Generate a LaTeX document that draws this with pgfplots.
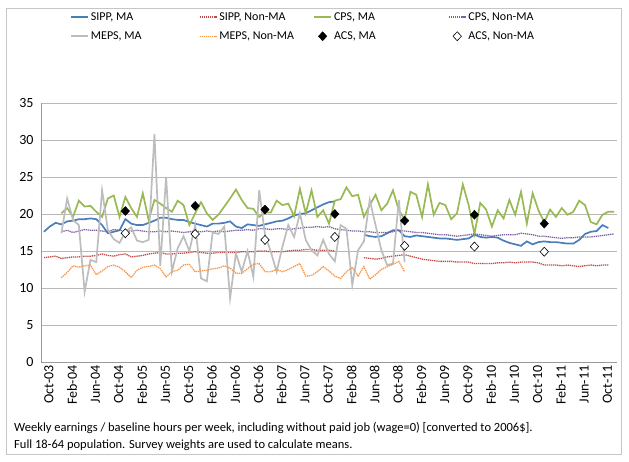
\documentclass[border=0pt]{standalone}
\usepackage{pgfplots}
\pgfplotsset{compat=1.18}
\usepackage{pgfplotstable}
\usepackage{fontspec}
\setmainfont{Carlito}
\definecolor{cBlue}{HTML}{4A7EBB}
\definecolor{cRed}{HTML}{BE4B48}
\definecolor{cGreen}{HTML}{98B954}
\definecolor{cPurple}{HTML}{7D60A0}
\definecolor{cGray}{HTML}{BDBDBD}
\definecolor{cOrange}{HTML}{F79646}
\definecolor{cAxis}{HTML}{9A9A9A}

\pgfplotstableread{
i sma snon cma cnon mma mnon
0 17.6 14.1 nan nan nan nan
1 18.3 14.2 nan nan nan nan
2 18.8 14.3 nan nan nan nan
3 18.6 14.0 20.1 17.6 17.4 11.4
4 19.0 14.1 20.8 17.8 22.1 12.1
5 19.1 14.2 19.6 17.5 19.2 13.0
6 19.3 14.2 21.8 17.7 18.5 12.8
7 19.3 14.3 21.0 17.9 9.5 13.0
8 19.4 14.3 21.1 17.8 13.8 13.1
9 19.3 14.4 20.3 17.8 13.5 11.8
10 18.5 14.6 19.6 17.7 23.2 12.3
11 17.4 14.4 22.1 17.6 17.8 12.9
12 17.6 14.3 22.5 17.9 16.6 13.1
13 17.8 14.5 19.6 17.8 16.1 12.8
14 19.3 14.6 22.3 17.7 17.6 12.2
15 18.7 14.2 20.8 17.7 18.2 11.4
16 18.5 14.3 19.6 17.8 16.4 12.4
17 18.5 14.4 22.8 17.7 16.2 12.8
18 18.8 14.6 19.2 17.6 16.5 12.9
19 19.1 14.7 21.9 17.6 30.8 13.1
20 19.5 14.8 21.4 17.7 13.0 12.6
21 19.5 14.6 20.8 17.6 25.0 11.5
22 19.3 14.6 20.3 17.7 12.2 12.2
23 19.2 14.7 21.8 17.6 15.4 12.4
24 19.2 14.7 21.2 17.5 17.0 13.1
25 18.9 14.8 18.5 17.6 15.0 13.2
26 18.7 14.9 20.1 17.7 18.5 12.2
27 18.5 14.8 21.6 17.6 11.3 12.3
28 18.3 14.7 20.1 17.7 10.9 12.4
29 18.7 14.7 19.2 17.6 17.5 12.6
30 18.7 14.8 19.9 17.7 17.3 12.7
31 18.8 14.8 21.0 17.6 18.3 13.0
32 19.0 14.8 22.1 17.7 8.6 12.7
33 18.3 14.8 23.3 17.8 14.7 12.0
34 18.1 14.9 21.9 17.8 12.2 12.0
35 18.6 14.9 20.8 17.9 15.0 12.6
36 18.5 14.9 20.7 17.8 11.5 13.2
37 18.4 15.0 19.6 18.0 23.2 13.3
38 18.6 15.0 20.2 18.0 17.2 12.2
39 18.8 14.9 20.2 17.9 14.9 12.2
40 19.0 14.9 21.8 18.0 12.2 12.5
41 19.1 14.9 21.2 18.0 15.6 12.2
42 19.4 15.0 21.4 17.9 18.5 12.5
43 19.8 15.1 19.7 18.0 16.9 12.9
44 20.0 15.1 23.4 18.1 20.1 13.3
45 20.1 15.2 20.1 18.2 16.5 11.6
46 20.5 15.2 23.2 18.2 15.1 11.7
47 20.9 15.1 19.6 18.3 14.4 12.2
48 21.3 15.1 20.5 18.2 16.5 12.9
49 21.6 15.1 18.7 18.3 14.6 12.3
50 21.7 15.0 21.8 18.0 13.6 11.6
51 nan nan 22.0 17.9 18.5 11.3
52 nan nan 23.6 17.8 18.0 12.2
53 nan nan 22.4 17.7 10.4 12.8
54 nan nan 22.6 17.7 15.1 11.6
55 17.2 14.1 19.6 17.6 16.3 12.9
56 17.0 14.0 21.2 17.6 21.9 11.2
57 16.9 13.9 22.6 17.5 18.5 11.8
58 17.0 14.0 20.5 17.5 15.1 12.5
59 17.4 14.2 21.4 17.5 13.1 12.9
60 17.8 14.3 23.2 17.6 13.3 13.2
61 17.8 14.4 20.5 17.8 21.9 13.6
62 17.0 14.5 19.3 17.7 13.5 12.2
63 16.9 14.3 23.0 17.6 nan nan
64 17.1 14.1 22.6 17.5 nan nan
65 17.0 13.9 19.6 17.5 nan nan
66 16.9 13.8 24.0 17.4 nan nan
67 16.8 13.7 19.9 17.3 nan nan
68 16.7 13.6 21.5 17.2 nan nan
69 16.7 13.6 21.2 17.2 nan nan
70 16.6 13.6 19.3 17.1 nan nan
71 16.5 13.5 20.1 17.0 nan nan
72 16.6 13.5 24.0 17.1 nan nan
73 16.7 13.5 21.2 17.2 nan nan
74 17.2 13.3 17.3 17.3 nan nan
75 16.9 13.3 21.5 17.2 nan nan
76 16.8 13.3 20.6 17.1 nan nan
77 16.9 13.3 18.3 17.0 nan nan
78 16.8 13.4 20.5 17.1 nan nan
79 16.4 13.4 19.4 17.2 nan nan
80 16.1 13.5 21.9 17.2 nan nan
81 15.9 13.4 19.9 17.2 nan nan
82 15.7 13.5 23.0 17.4 nan nan
83 16.3 13.5 18.7 17.3 nan nan
84 15.9 13.5 22.8 17.2 nan nan
85 16.2 13.4 20.5 17.0 nan nan
86 16.3 13.1 18.9 17.0 nan nan
87 16.2 13.1 20.6 16.9 nan nan
88 16.2 13.1 19.6 16.8 nan nan
89 16.1 13.0 20.8 16.7 nan nan
90 16.0 13.1 19.9 16.8 nan nan
91 16.0 13.0 20.3 16.8 nan nan
92 16.5 12.9 21.8 16.9 nan nan
93 17.3 13.0 21.2 16.9 nan nan
94 17.6 13.1 18.9 16.9 nan nan
95 17.7 13.0 18.6 17.0 nan nan
96 18.5 13.1 19.9 17.1 nan nan
97 18.1 13.1 20.3 17.2 nan nan
98 nan nan 20.3 17.3 nan nan
}\datatable

\pgfplotstableread{
i ma non
14 20.4 17.4
26 21.1 17.3
38 20.6 16.5
50 20.0 16.9
62 19.1 15.7
74 19.9 15.6
86 18.7 14.9
}\acstable

\begin{document}
\begin{tikzpicture}
\path (0,0) rectangle (629pt,462pt);
\draw[color=gray!45, line width=0.8pt] (6.5pt,8pt) rectangle (621pt,454pt);
\begin{axis}[
  at={(41pt,100pt)}, anchor=south west,
  scale only axis, width=576pt, height=259pt,
  xmin=-0.5, xmax=98.5, ymin=0, ymax=35,
  ytick={0,5,...,35},
  xtick={0,4,...,96},
  xticklabels={Oct-03,Feb-04,Jun-04,Oct-04,Feb-05,Jun-05,Oct-05,Feb-06,Jun-06,Oct-06,Feb-07,Jun-07,Oct-07,Feb-08,Jun-08,Oct-08,Feb-09,Jun-09,Oct-09,Feb-10,Jun-10,Oct-10,Feb-11,Jun-11,Oct-11},
  x tick label style={rotate=90, anchor=east, yshift=-5pt, font=\fontsize{14}{16}\selectfont},
  y tick label style={xshift=-4pt, font=\fontsize{14}{16}\selectfont},
  /pgf/number format/assume math mode=true,
  ymajorgrids, grid style={color=cAxis!70, line width=0.7pt},
  axis x line*=bottom, axis y line*=left,
  axis line style={color=cAxis, line width=0.8pt, -},
  tick style={draw=none},
  unbounded coords=jump,
  legend columns=4,
  legend cell align=left,
  legend style={at={(0.045,1.295)}, anchor=west, draw=none, fill=none,
    font=\fontsize{12}{14}\selectfont,
    /tikz/every even column/.append style={column sep=4pt},
    row sep=6pt},
]
\addplot[cBlue, line width=1.7pt] table[x=i,y=sma]{\datatable};
\addlegendentry{\makebox[102pt][l]{SIPP, MA}}
\addplot[cRed, line width=1.3pt, dash pattern=on 1.3pt off 0.8pt] table[x=i,y=snon]{\datatable};
\addlegendentry{\makebox[88pt][l]{SIPP, Non-MA}}
\addplot[cGreen, line width=1.7pt] table[x=i,y=cma]{\datatable};
\addlegendentry{\makebox[108pt][l]{CPS, MA}}
\addplot[cPurple, line width=1.3pt, dash pattern=on 1.3pt off 0.8pt] table[x=i,y=cnon]{\datatable};
\addlegendentry{\makebox[72pt][l]{CPS, Non-MA}}
\addplot[cGray, line width=1.7pt] table[x=i,y=mma]{\datatable};
\addlegendentry{MEPS, MA}
\addplot[cOrange, line width=1.3pt, dash pattern=on 1.3pt off 0.8pt] table[x=i,y=mnon]{\datatable};
\addlegendentry{MEPS, Non-MA}
\addplot[only marks, mark=diamond*, mark size=4.5pt, mark options={xscale=1.25, fill=black, draw=black}] table[x=i,y=ma]{\acstable};
\addlegendentry{ACS, MA}
\addplot[only marks, mark=diamond*, mark size=4.5pt, mark options={xscale=1.25, fill=white, draw=black, line width=0.6pt}] table[x=i,y=non]{\acstable};
\addlegendentry{ACS, Non-MA}
\end{axis}
\node[anchor=west, font=\fontsize{12.5}{14}\selectfont, inner sep=0pt] at (14pt,34pt) {Weekly earnings / baseline hours per week, including without paid job (wage=0) [converted to 2006\$].};
\node[anchor=west, font=\fontsize{12.5}{14}\selectfont, inner sep=0pt] at (14pt,17pt) {Full 18-64 population. Survey weights are used to calculate means.};
\end{tikzpicture}
\end{document}
